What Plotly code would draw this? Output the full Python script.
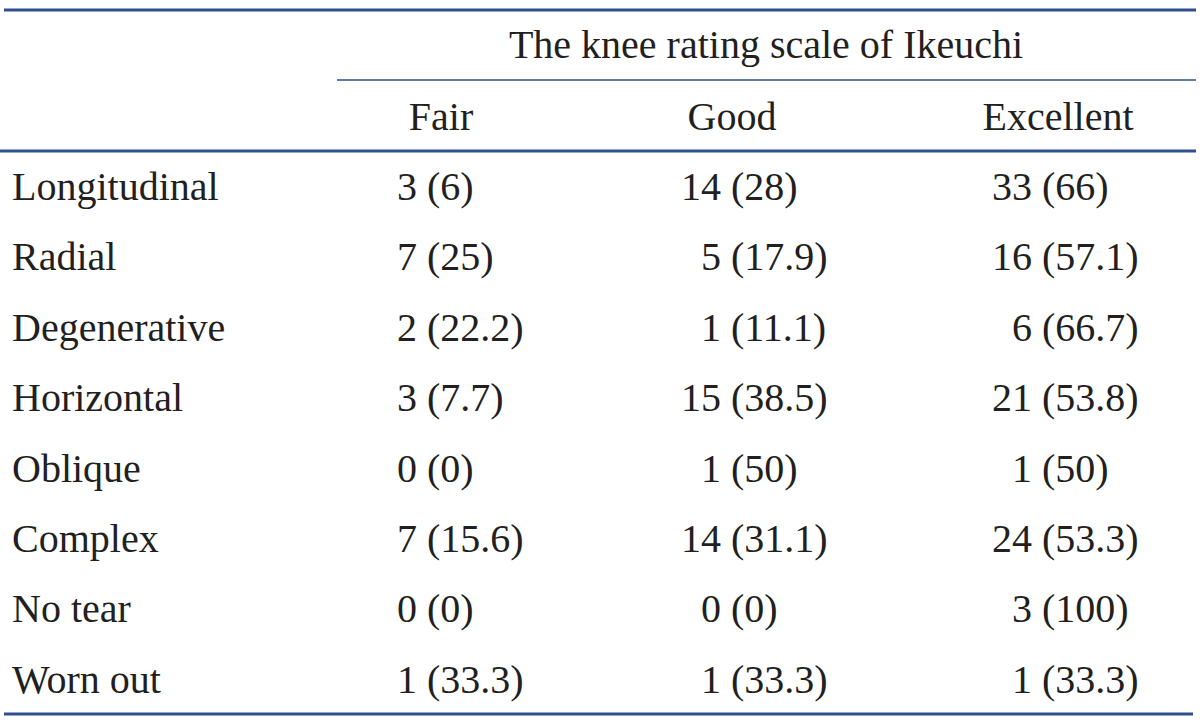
import plotly.graph_objects as go

# ---- data ----
title_text = "The knee rating scale of Ikeuchi"
columns = ["Fair", "Good", "Excellent"]
row_labels = ["Longitudinal", "Radial", "Degenerative", "Horizontal",
              "Oblique", "Complex", "No tear", "Worn out"]
fair_n = [3, 7, 2, 3, 0, 7, 0, 1]
fair_pct = ["6", "25", "22.2", "7.7", "0", "15.6", "0", "33.3"]
good_n = [14, 5, 1, 15, 1, 14, 0, 1]
good_pct = ["28", "17.9", "11.1", "38.5", "50", "31.1", "0", "33.3"]
exc_n = [33, 16, 6, 21, 1, 24, 3, 1]
exc_pct = ["66", "57.1", "66.7", "53.8", "50", "53.3", "100", "33.3"]

# ---- layout constants ----
W, H = 1200, 724
FONT = "Liberation Serif"
FS = 40
TXT = "#231f20"
LINE = "#2f4f8f"
row_y0, row_dy = 190, 70.4
paren_x = [427, 731, 1042]
count_gap = 10
header_x = [441, 732, 1058]

fig = go.Figure()

rows_y = [row_y0 + i * row_dy for i in range(len(row_labels))]

# row labels
fig.add_trace(go.Scatter(x=[12] * len(row_labels), y=rows_y, mode="text",
                         text=row_labels, textposition="middle right",
                         textfont=dict(family=FONT, size=FS, color=TXT),
                         hoverinfo="skip", showlegend=False))

for ci, (ns, ps) in enumerate([(fair_n, fair_pct), (good_n, good_pct), (exc_n, exc_pct)]):
    fig.add_trace(go.Scatter(x=[paren_x[ci] - count_gap] * len(ns), y=rows_y, mode="text",
                             text=[str(n) for n in ns], textposition="middle left",
                             textfont=dict(family=FONT, size=FS, color=TXT),
                             hoverinfo="skip", showlegend=False))
    fig.add_trace(go.Scatter(x=[paren_x[ci]] * len(ps), y=rows_y, mode="text",
                             text=["(" + p + ")" for p in ps], textposition="middle right",
                             textfont=dict(family=FONT, size=FS, color=TXT),
                             hoverinfo="skip", showlegend=False))

# column headers
fig.add_trace(go.Scatter(x=header_x, y=[120] * 3, mode="text", text=columns,
                         textposition="middle center",
                         textfont=dict(family=FONT, size=FS, color=TXT),
                         hoverinfo="skip", showlegend=False))
# spanning title
fig.add_trace(go.Scatter(x=[766], y=[48], mode="text", text=[title_text],
                         textposition="middle center",
                         textfont=dict(family=FONT, size=FS, color=TXT),
                         hoverinfo="skip", showlegend=False))

# rules
for x0, x1, y, w in [(4, 1196, 10, 3), (337, 1196, 80, 1.5), (0, 1196, 151, 3), (4, 1193, 714, 3)]:
    fig.add_shape(type="line", xref="x", yref="y", x0=x0, x1=x1, y0=y, y1=y,
                  line=dict(color=LINE, width=w))

fig.update_xaxes(range=[0, W], visible=False, fixedrange=True)
fig.update_yaxes(range=[H, 0], visible=False, fixedrange=True)
fig.update_layout(width=W, height=H, margin=dict(l=0, r=0, t=0, b=0),
                  paper_bgcolor="white", plot_bgcolor="white")

fig.write_html("out.html", config={"displayModeBar": False},
               post_script="document.body.style.margin='0';document.body.style.overflow='hidden';")
